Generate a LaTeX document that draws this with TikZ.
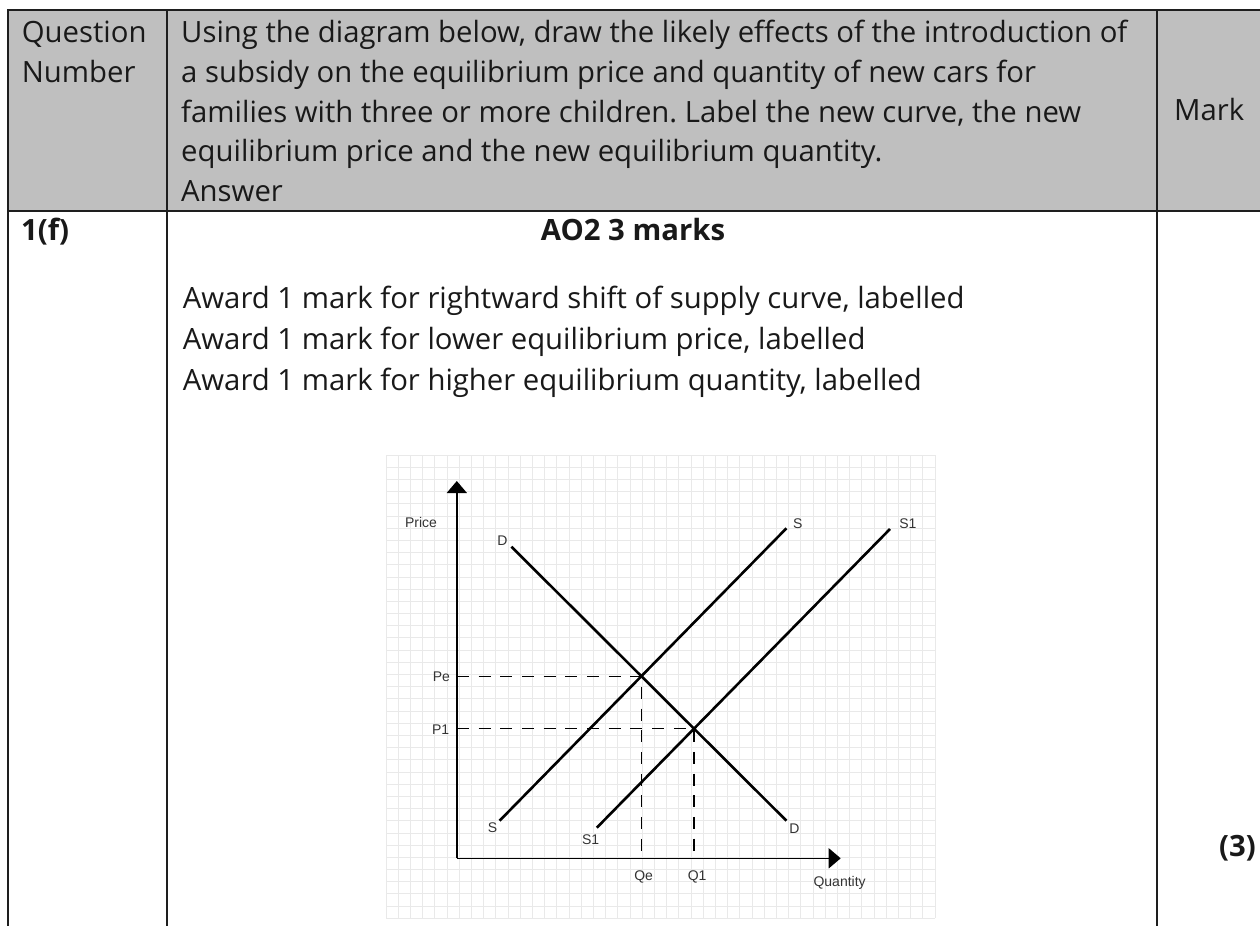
\documentclass[tikz,border=0pt]{standalone}
\usepackage{fontspec}
\setmainfont{Open Sans}
\newfontfamily\chartfont{Liberation Sans}
\usetikzlibrary{arrows.meta}
\definecolor{headgray}{HTML}{BFBFBF}
\definecolor{rulecol}{HTML}{1E1E1E}
\definecolor{gridgray}{HTML}{E9E9E9}
\definecolor{inkgray}{HTML}{333333}
\frenchspacing

\begin{document}
\begin{tikzpicture}[
    x=1pt, y=-1pt,
    rulel/.style={draw=rulecol, line width=2pt},
    body/.style={font=\fontsize{29.3}{41}\selectfont, text=black!90, inner sep=0pt, anchor=base west, align=left},
    head/.style={body, font=\fontsize{29.3}{39.75}\selectfont},
    bold/.style={body, font=\fontsize{29.3}{34}\selectfont\bfseries},
    gridline/.style={draw=gridgray, line width=0.8pt},
    axis/.style={draw=black, line width=1.6pt, -{Triangle[width=20pt,length=12pt]}},
    curve/.style={draw=black, line width=2.6pt},
    guide/.style={draw=black, line width=1.5pt, dash pattern=on 12pt off 9.7pt},
    lbl/.style={font=\chartfont\fontsize{14}{16}\selectfont, text=inkgray, inner sep=0pt}
]
\useasboundingbox (0,0) rectangle (1260,926);

% table
\fill[headgray] (8,10) rectangle (1260,211);
\draw[rulel] (8,10) -- (1260,10);
\draw[rulel] (8,211) -- (1260,211);
\draw[rulel] (8,9) -- (8,926);
\draw[rulel] (167.3,9) -- (167.3,926);
\draw[rulel] (1156.7,9) -- (1156.7,926);

% multi-line nodes sit on the baseline of their last line
\node[head] (qnum) at (21.7,82.45) {Question\\Number};
\node[head] (qtext) at (181,201.7) {Using the diagram below, draw the likely effects of the introduction of\\a subsidy on the equilibrium price and quantity of new cars for\\families with three or more children. Label the new curve, the new\\equilibrium price and the new equilibrium quantity.\\Answer};
\node[head] (mark) at (1174,120) {Mark};
\node[bold] (qid) at (21,240) {1(f)};
\node[bold, anchor=base] (ao) at (633,240) {AO2 3 marks};
\node[body] (award) at (182.7,390.5) {Award 1 mark for rightward shift of supply curve, labelled\\Award 1 mark for lower equilibrium price, labelled\\Award 1 mark for higher equilibrium quantity, labelled};
\node[bold, anchor=base east] (total) at (1256,856) {(3)};

% grid behind the chart
\foreach \i in {0,...,45}
    \draw[gridline] (386+\i*12.2,455) -- (386+\i*12.2,918.3);
\foreach \j in {0,...,38}
    \draw[gridline] (386,455+\j*12.19) -- (935,455+\j*12.19);

% chart
\coordinate (O) at (456.8,858.3);
\coordinate (ytop) at (456.8,481);
\coordinate (xend) at (840.7,858.3);
\coordinate (d0) at (511.4,546.7);
\coordinate (d1) at (786.4,820.7);
\coordinate (s0) at (499.6,820.7);
\coordinate (s1) at (786.4,528.3);
\coordinate (t0) at (596.8,827.7);
\coordinate (t1) at (890,529);
\coordinate (E) at (intersection of d0--d1 and s0--s1);
\coordinate (F) at (intersection of d0--d1 and t0--t1);

\draw[guide] (O |- E) -- (E) -- (E |- O);
\draw[guide] (O |- F) -- (F) -- (F |- O);
\draw[axis] (O) -- (ytop);
\draw[axis] (O) -- (xend);
\draw[curve] (d0) -- (d1);
\draw[curve] (s0) -- (s1);
\draw[curve] (t0) -- (t1);

\node[lbl] (price) at (421,522.5) {Price};
\node[lbl] (qty) at (839.6,883) {Quantity};
\node[lbl] (dtop) at (502.5,540.7) {D};
\node[lbl] (dbot) at (794.3,828.3) {D};
\node[lbl] (stop) at (797.9,524) {S};
\node[lbl] (sbot) at (492.5,827.7) {S};
\node[lbl] (s1top) at (907.9,524) {S1};
\node[lbl] (s1bot) at (590.7,840) {S1};
\node[lbl] (pe) at (441.4,676.7) {Pe};
\node[lbl] (p1) at (440.7,730) {P1};
\node[lbl] (qe) at (643.6,876.7) {Qe};
\node[lbl] (q1) at (697.1,876.7) {Q1};
\end{tikzpicture}
\end{document}
